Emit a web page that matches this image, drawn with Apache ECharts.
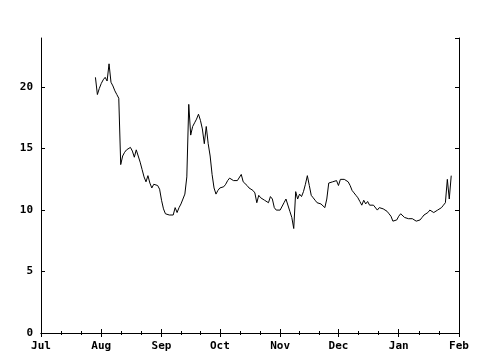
<!DOCTYPE html>
<html>
<head>
<meta charset="utf-8">
<script src="https://cdn.jsdelivr.net/npm/echarts@6/dist/echarts.min.js"></script>
<style>html,body{margin:0;padding:0;background:#fff}#c{width:480px;height:360px}</style>
</head>
<body>
<div id="c"></div>
<script>
var dates = [
'2002-07-29','2002-07-30','2002-07-31','2002-08-01','2002-08-02','2002-08-03','2002-08-04','2002-08-05','2002-08-06','2002-08-07',
'2002-08-08','2002-08-09','2002-08-10','2002-08-11','2002-08-12','2002-08-13','2002-08-14','2002-08-15','2002-08-16','2002-08-17',
'2002-08-18','2002-08-19','2002-08-20','2002-08-21','2002-08-22','2002-08-23','2002-08-24','2002-08-25','2002-08-26','2002-08-27',
'2002-08-28','2002-08-29','2002-08-30','2002-08-31','2002-09-01','2002-09-02','2002-09-03','2002-09-04','2002-09-05','2002-09-06',
'2002-09-07','2002-09-08','2002-09-09','2002-09-10','2002-09-11','2002-09-12','2002-09-13','2002-09-14','2002-09-15','2002-09-16',
'2002-09-17','2002-09-18','2002-09-19','2002-09-20','2002-09-21','2002-09-22','2002-09-23','2002-09-24','2002-09-25','2002-09-26',
'2002-09-27','2002-09-28','2002-09-29','2002-09-30','2002-10-01','2002-10-02','2002-10-03','2002-10-04','2002-10-05','2002-10-06',
'2002-10-07','2002-10-08','2002-10-09','2002-10-10','2002-10-11','2002-10-12','2002-10-13','2002-10-14','2002-10-15','2002-10-16',
'2002-10-17','2002-10-18','2002-10-19','2002-10-20','2002-10-21','2002-10-22','2002-10-23','2002-10-24','2002-10-25','2002-10-26',
'2002-10-27','2002-10-28','2002-10-29','2002-10-30','2002-10-31','2002-11-01','2002-11-02','2002-11-03','2002-11-04','2002-11-05',
'2002-11-06','2002-11-07','2002-11-08','2002-11-09','2002-11-10','2002-11-11','2002-11-12','2002-11-13','2002-11-14','2002-11-15',
'2002-11-16','2002-11-17','2002-11-18','2002-11-19','2002-11-20','2002-11-21','2002-11-22','2002-11-23','2002-11-24','2002-11-25',
'2002-11-26','2002-11-27','2002-11-28','2002-11-29','2002-11-30','2002-12-01','2002-12-02','2002-12-03','2002-12-04','2002-12-05',
'2002-12-06','2002-12-07','2002-12-08','2002-12-09','2002-12-10','2002-12-11','2002-12-12','2002-12-13','2002-12-14','2002-12-15',
'2002-12-16','2002-12-17','2002-12-18','2002-12-19','2002-12-20','2002-12-21','2002-12-22','2002-12-23','2002-12-24','2002-12-25',
'2002-12-26','2002-12-27','2002-12-28','2002-12-29','2002-12-30','2002-12-31','2003-01-01','2003-01-02','2003-01-03','2003-01-04',
'2003-01-05','2003-01-06','2003-01-07','2003-01-08','2003-01-09','2003-01-10','2003-01-11','2003-01-12','2003-01-13','2003-01-14',
'2003-01-15','2003-01-16','2003-01-17','2003-01-18','2003-01-19','2003-01-20','2003-01-21','2003-01-22','2003-01-23','2003-01-24',
'2003-01-25','2003-01-26','2003-01-27','2003-01-28'
];
var values = [
20.8,19.4,19.9,20.3,20.6,20.8,20.5,21.9,20.4,20.1,
19.7,19.4,19.1,13.7,14.4,14.7,14.9,15.0,15.1,14.8,
14.3,14.9,14.4,13.9,13.3,12.7,12.3,12.8,12.2,11.8,
12.1,12.0,12.0,11.7,10.8,10.1,9.7,9.6,9.6,9.6,
9.6,10.2,9.8,10.2,10.5,10.9,11.3,12.7,18.6,16.1,
16.8,17.1,17.4,17.8,17.3,16.6,15.4,16.8,15.4,14.4,
12.9,11.8,11.3,11.6,11.8,11.8,11.9,12.1,12.4,12.6,
12.5,12.4,12.4,12.4,12.5,12.9,12.3,12.2,12.0,11.8,
11.7,11.6,11.4,10.6,11.2,11.0,10.9,10.8,10.7,10.6,
11.1,10.9,10.2,10.0,10.0,10.0,10.1,10.6,10.9,10.8,
9.9,9.4,8.5,11.5,10.9,11.3,11.1,11.5,12.1,12.8,
12.0,11.2,11.0,10.8,10.6,10.5,10.5,10.4,10.2,10.9,
12.2,12.3,12.3,12.3,12.4,12.0,12.5,12.6,12.5,12.4,
12.3,12.0,11.6,11.4,11.2,11.0,10.7,10.4,10.8,10.5,
10.7,10.4,10.4,10.4,10.4,10.0,10.2,10.3,10.1,10.0,
9.9,9.7,9.5,9.1,9.0,9.2,9.5,9.7,9.8,9.4,
9.4,9.3,9.4,9.3,9.2,9.1,9.1,9.2,9.4,9.6,
9.7,9.8,10.0,10.0,9.8,9.9,10.0,10.1,10.2,10.4,
10.6,12.5,10.9,12.8
];
var monthLabels = ['Jan','Feb','Mar','Apr','May','Jun','Jul','Aug','Sep','Oct','Nov','Dec'];
var xRange = ['2002-07-01','2003-02-01'];
var yRange = [0, 24];
var yStep = 5;

var FONT = 'DejaVu Sans Mono';
var DAY = 86400000;
function xAxisCfg(pos, showLabel) {
  return {
    type: 'time', position: pos, min: xRange[0], max: xRange[1],
    minInterval: 28 * DAY, maxInterval: 31 * DAY, splitNumber: 7,
    axisLine: { show: true, lineStyle: { color: '#000', width: 1 } },
    axisTick: { show: true, inside: true, length: 4, lineStyle: { color: '#000' } },
    minorTick: { show: true, splitNumber: 3, length: 2, lineStyle: { color: '#000' } },
    splitLine: { show: false }, minorSplitLine: { show: false },
    axisLabel: {
      show: showLabel, color: '#000', fontFamily: FONT, fontWeight: 'bold', fontSize: 11, margin: 8,
      showMinLabel: true, showMaxLabel: true, hideOverlap: false,
      formatter: function (v) { return monthLabels[new Date(v).getMonth()]; }
    }
  };
}
function yAxisCfg(pos, showLabel) {
  return {
    type: 'value', position: pos, min: yRange[0], max: yRange[1], interval: yStep,
    axisLine: { show: true, lineStyle: { color: '#000', width: 1 } },
    axisTick: { show: true, inside: true, length: 4, lineStyle: { color: '#000' } },
    splitLine: { show: false },
    axisLabel: {
      show: showLabel, color: '#000', fontFamily: FONT, fontWeight: 'bold', fontSize: 11, margin: 8,
      showMaxLabel: false,
      formatter: function (v) { return (v % yStep === 0) ? String(v) : ''; }
    }
  };
}
var chart = echarts.init(document.getElementById('c'), null, { renderer: 'canvas' });
chart.setOption({
  animation: false,
  backgroundColor: '#fff',
  grid: { left: 41, right: 21, top: 38, bottom: 27 },
  xAxis: [xAxisCfg('bottom', true), xAxisCfg('top', false)],
  yAxis: [yAxisCfg('left', true), yAxisCfg('right', false)],
  series: [{
    type: 'line', xAxisIndex: 0, yAxisIndex: 0, showSymbol: false, symbol: 'none',
    lineStyle: { color: '#000', width: 1 },
    data: dates.map(function (d, i) { return [d, values[i]]; })
  }]
});
</script>
</body>
</html>
